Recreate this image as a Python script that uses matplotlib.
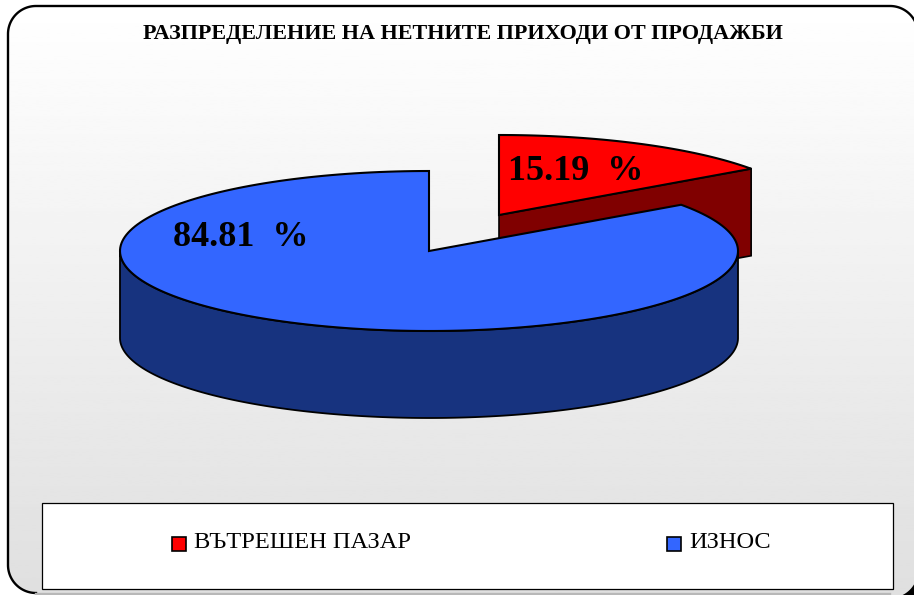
import numpy as np
import matplotlib
matplotlib.use("Agg")
import matplotlib.pyplot as plt
from matplotlib.patches import Polygon, Rectangle

title = "РАЗПРЕДЕЛЕНИЕ НА НЕТНИТЕ ПРИХОДИ ОТ ПРОДАЖБИ"
categories = ["ВЪТРЕШЕН ПАЗАР", "ИЗНОС"]
shares = [15.19, 84.81]
share_labels = ["15.19  %", "84.81  %"]

plt.rcParams["font.family"] = ["Liberation Serif", "DejaVu Serif"]

fig = plt.figure(figsize=(9.14, 5.95), dpi=100)
ax = fig.add_axes([0, 0, 1, 1])
ax.axis("off")


def arc(cx, cy, r, a0, a1, n=40):
    a = np.radians(np.linspace(a0, a1, n))
    return np.column_stack([cx + r * np.cos(a), cy + r * np.sin(a)])


# rounded frame with a white to grey gradient, black shows in the lower right corner
r = 28
left_part = np.vstack([arc(36, 565, r, 90, 180), arc(36, 34, r, 180, 270), arc(890, 34, r, 270, 360)])
right_part = arc(890, 570, r, 0, 90)
outline = np.vstack([left_part, right_part])
ax.add_patch(Rectangle((880, 560), 40, 40, facecolor="black", edgecolor="none", zorder=0))
frame = Polygon(outline, closed=True, facecolor="none", edgecolor="none", zorder=2)
ax.add_patch(frame)
grad = np.linspace(1, 0.875, 256).reshape(-1, 1)
img = ax.imshow(grad, extent=(8, 918, 598, 6), cmap="gray", vmin=0, vmax=1,
                aspect="auto", zorder=1)
img.set_clip_path(frame)
ax.set_xlim(0, 914)
ax.set_ylim(595, 0)
ax.plot(left_part[:, 0], left_part[:, 1], color="black", linewidth=1.7, zorder=3)
# bottom edge is pale in the reference
ax.plot([36, 890], [593.5, 593.5], color="#b8b8b8", linewidth=1.7, zorder=3)

# pie geometry, angles run clockwise from the top
rx, ry, depth = 309, 80, 87
blue_c = (429, 251)
red_c = (499, 215)
split = 360 * shares[0] / sum(shares)


def rim(c, t0, t1, n=200, dy=0):
    t = np.radians(np.linspace(t0, t1, n))
    return np.column_stack([c[0] + rx * np.sin(t), c[1] - ry * np.cos(t) + dy])


# red slice, pulled out behind the blue one
red_end = rim(red_c, split, split, 1)[0]
ax.add_patch(Polygon([red_c, red_end, red_end + [0, depth], (red_c[0], red_c[1] + depth)],
                     facecolor="#800000", edgecolor="black", linewidth=1.2, zorder=3))
ax.add_patch(Polygon(np.vstack([[red_c], rim(red_c, 0, split)]),
                     facecolor="#ff0000", edgecolor="black", linewidth=1.5, zorder=4))

# blue slice, side wall first
wall = np.vstack([rim(blue_c, 90, 270), rim(blue_c, 270, 90, dy=depth)])
ax.add_patch(Polygon(wall, facecolor="#17337f", edgecolor="black", linewidth=1.3, zorder=5))
ax.add_patch(Polygon(np.vstack([[blue_c], rim(blue_c, split, 360)]),
                     facecolor="#3366ff", edgecolor="black", linewidth=1.5, zorder=6))

ax.text(463, 34, title, fontsize=15.9, fontweight="bold", ha="center", va="center", zorder=8)
ax.text(576, 171, share_labels[0], fontsize=26, fontweight="bold", ha="center", va="center", zorder=8)
ax.text(241, 237, share_labels[1], fontsize=26, fontweight="bold", ha="center", va="center", zorder=8)

# legend box with a small grey shadow
ax.add_patch(Rectangle((43, 504), 851, 86, facecolor="#808080", edgecolor="none", zorder=7))
ax.add_patch(Rectangle((42, 503), 851, 86, facecolor="white", edgecolor="black",
                       linewidth=0.9, zorder=7))
legend_colors = ["#ff0000", "#3366ff"]
legend_x = [172, 667]
for name, col, x in zip(categories, legend_colors, legend_x):
    ax.add_patch(Rectangle((x, 537), 14, 14, facecolor=col, edgecolor="black",
                           linewidth=1.2, zorder=8))
    ax.text(x + 22, 543, name, fontsize=17.6, ha="left", va="center", zorder=8)

fig.savefig("out.png", dpi=100)
